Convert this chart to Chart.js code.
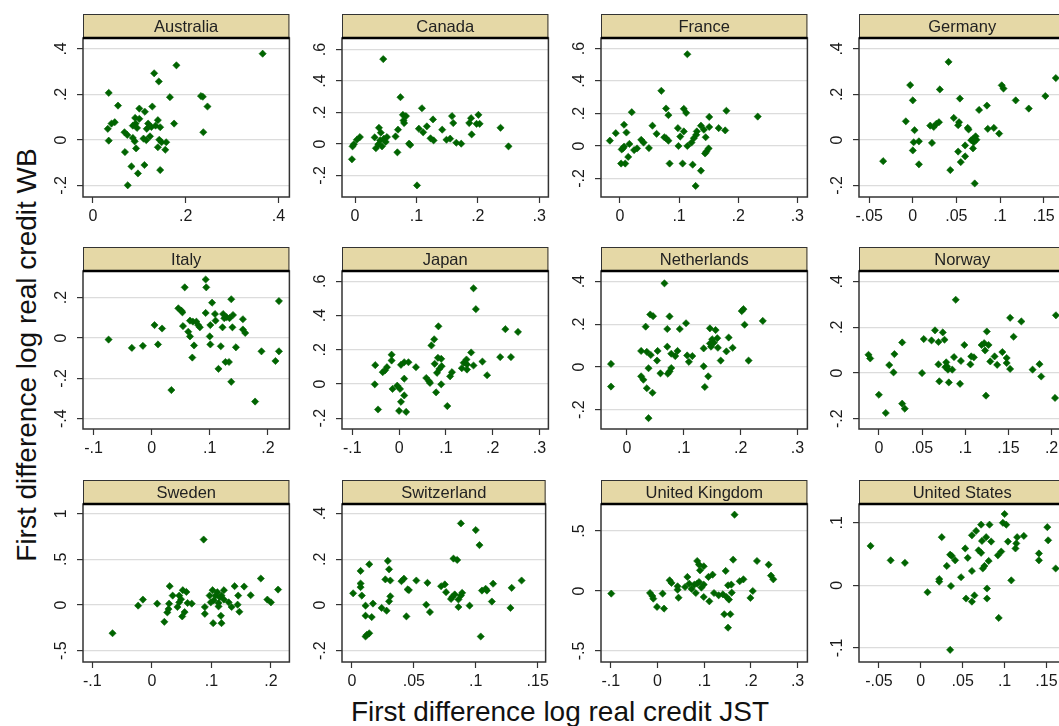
<!DOCTYPE html>
<html>
<head>
<meta charset="utf-8">
<title>Credit growth scatter by country</title>
<script src="https://cdn.jsdelivr.net/npm/chart.js@4.4.0/dist/chart.umd.min.js"></script>
<style>
  html, body { margin: 0; padding: 0; background: #fff; }
  #page { position: relative; width: 1059px; height: 726px; overflow: hidden; background: #fff; }
  #page canvas { position: absolute; }
  .axis-title { position: absolute; white-space: nowrap; font: 28px "Liberation Sans", Arial, sans-serif; color: #111; }
  #ytitle { left: 27px; top: 355px; transform: translate(-50%, -50%) rotate(-90deg); }
  #xtitle { left: 560px; top: 712px; transform: translate(-50%, -50%); }
</style>
</head>
<body>
<div id="page">
  <div class="axis-title" id="ytitle">First difference log real credit WB</div>
  <div class="axis-title" id="xtitle">First difference log real credit JST</div>
</div>
<script>
// ---- data: x = JST credit growth, y = WB credit growth ----
const australiaX = [.366,.180,.132,.142,.034,.166,.233,.237,.247,.054,.100,.128,.112,.091,.100,.047,.040,.032,.092,.095,.119,.126,.140,.135,.145,.175,.116,.068,.074,.086,.090,.109,.115,.123,.034,.093,.140,.143,.148,.158,.156,.069,.083,.111,.097,.145,.075,.238,.086];
const australiaY = [.379,.328,.293,.257,.207,.188,.193,.190,.147,.151,.138,.147,.124,.097,.093,.078,.072,.049,.072,.053,.072,.057,.087,.063,.056,.072,.049,.034,.022,.009,-.006,.006,-.001,.016,-.003,-.037,-.032,.001,-.010,-.010,-.043,-.053,-.116,-.110,-.147,-.132,-.199,.034,.063];

const canadaX = [.046,.074,.109,.078,.083,.079,.080,.127,.158,.160,.189,.201,.203,.186,.198,.117,.104,.111,.070,.039,.042,.032,.237,.142,.190,.123,.128,.149,.155,.165,.173,.008,.003,-.002,-.004,.066,.052,.047,.041,.038,.034,.050,.044,.088,.090,.069,-.005,.250,.101];
const canadaY = [.539,.297,.227,.185,.177,.149,.133,.156,.177,.133,.164,.185,.128,.133,.128,.112,.097,.074,.091,.103,.072,.042,.103,.091,.061,.036,.023,.027,.034,.008,.002,.044,.027,-.002,-.015,.048,.044,.034,.023,-.002,-.027,.013,-.015,.002,-.006,-.053,-.097,-.015,-.263];

const franceX = [.114,.070,.078,.082,.108,.112,.020,.180,.233,.151,.055,.007,.062,.098,.108,.102,.137,.142,.130,.129,.125,.151,.167,.178,.145,.078,.082,.075,-.007,-.017,.011,.016,.036,.040,.029,.024,.005,.007,.003,.049,.099,.114,.121,.150,.146,.144,.014,.002,.009,.084,.106,.123,.137,.128];
const franceY = [.565,.340,.231,.190,.229,.204,.208,.217,.181,.179,.125,.131,.075,.110,.090,.058,.125,.100,.090,.069,.048,.117,.110,.096,.054,.048,.033,.054,.079,.033,.083,.013,.038,.021,-.015,-.025,-.015,-.004,-.021,-.013,0,0,.021,-.015,-.035,-.046,-.067,-.108,-.108,-.108,-.108,-.115,-.152,-.246];

const germanyX = [.041,-.003,.031,0,.054,.102,.104,.118,.152,.164,.133,.085,.076,-.008,.047,.030,.027,.020,.024,.053,.052,.063,.064,.086,.093,.099,.002,.072,.069,.067,.070,.073,.060,.069,.001,.007,.022,0,.052,.060,.055,-.034,.007,.043,.071];
const germanyY = [.343,.241,.222,.174,.182,.240,.226,.174,.193,.272,.138,.151,.132,.082,.097,.078,.071,.063,.057,.078,.065,.053,.046,.049,.053,.028,.043,.016,.004,-.001,-.010,.001,-.024,-.037,-.010,-.006,-.013,-.046,-.051,-.072,-.097,-.093,-.107,-.132,-.191];

const italyX = [.093,.094,.057,.104,.137,.219,.046,.051,.053,.093,.109,.123,.129,.134,.140,.125,.157,.005,.018,.054,.066,.071,.077,.083,.080,.110,.101,.122,.139,.157,.161,.063,.066,.100,-.074,.011,-.034,-.015,.073,.101,.119,.145,.070,.189,.219,.213,.127,.133,.115,.137,.034,.178];
const italyY = [.290,.251,.251,.175,.192,.183,.147,.136,.127,.124,.119,.119,.103,.098,.114,.098,.093,.064,.047,.059,.086,.081,.081,.053,.064,.086,.064,.053,.053,.042,.025,.031,.008,.008,-.008,-.032,-.049,-.039,-.037,-.032,-.041,-.046,-.097,-.066,-.066,-.114,-.119,-.119,-.153,-.217,-.258,-.315];

const japanX = [.159,.164,.084,.227,.254,.075,.069,.154,.239,.216,.178,.083,.090,.076,.091,.086,.081,.144,.138,.145,.159,.134,.145,-.016,-.016,-.051,-.026,-.035,-.030,.004,.011,.020,.036,.113,.109,.188,.058,.064,.066,.011,-.052,-.004,.002,-.014,.090,.079,.011,.004,.103,-.045,0,.015];
const japanY = [.559,.437,.337,.320,.304,.261,.225,.184,.157,.157,.131,.153,.147,.118,.104,.088,.065,.143,.124,.114,.108,.092,.084,.171,.137,.110,.098,.069,.080,.112,.127,.127,.098,.069,.045,.051,.035,.016,.006,.031,-.002,-.010,-.029,-.029,-.002,-.049,-.067,-.104,-.129,-.149,-.157,-.163];

const netherlandsX = [.066,.041,.046,.075,.202,.205,.239,.207,.104,.033,.071,.093,.146,.156,.159,.179,.150,.146,.153,.148,.160,.186,.175,.135,.071,.025,.035,.042,.054,.089,.078,.085,.106,.115,.109,.053,.165,.214,-.028,.135,.038,.078,.075,.059,.072,.025,.029,.143,-.028,.035,.137,.045,.038];
const netherlandsY = [.392,.246,.238,.237,.262,.271,.216,.198,.205,.189,.178,.178,.181,.173,.135,.138,.130,.110,.114,.095,.090,.090,.073,.087,.095,.075,.071,.056,.075,.075,.062,.051,.054,.051,.024,.030,.030,.030,.014,.003,-.006,-.005,-.021,-.030,-.032,-.044,-.060,-.044,-.092,-.100,-.094,-.121,-.240];

const norwayX = [.089,.152,.165,.205,.065,.125,.074,.052,.061,.069,.076,.156,.027,.099,.119,.122,.127,.123,-.012,-.010,.018,.012,.017,.069,.078,.079,.080,.077,.087,.095,.085,.106,.107,.110,.134,.129,.137,.143,.148,.148,.152,.186,.178,.188,.050,.070,.081,.094,0,.124,.204,.027,.030,.008];
const norwayY = [.321,.242,.226,.253,.187,.182,.178,.149,.143,.136,.146,.159,.134,.123,.123,.131,.123,.099,.080,.064,.083,.035,.003,.038,.047,.029,.015,.026,.070,.053,.015,.038,.073,.069,.073,.051,.036,.092,.066,.044,.018,.039,.015,-.015,0,-.036,-.041,-.047,-.095,-.099,-.109,-.134,-.156,-.175];

const swedenX = [.087,.183,.212,.155,.139,.030,.052,.058,.046,.035,.060,.067,.049,.046,.029,-.015,-.023,.009,.028,.026,.043,.055,.051,.021,.089,.089,.102,.110,.097,.107,.114,.121,.117,.104,.099,.112,.121,.112,.129,.134,.145,.144,.147,.166,.194,.200,.103,.117,.116,-.066];
const swedenY = [.717,.290,.169,.202,.206,.206,.162,.143,.103,.103,.022,.015,.063,.029,.015,.059,-.007,.015,-.044,-.081,-.022,-.077,-.125,-.184,-.022,-.096,.162,.140,.103,.103,.085,.162,.103,.051,.029,.022,.059,-.015,.029,-.022,.103,.004,-.074,.107,.059,.029,-.199,-.199,-.118,-.309];

const switzerlandX = [.088,.100,.103,.082,.085,.029,.014,.030,.007,.007,.007,.001,.008,.027,.031,.040,.042,.052,.045,.046,.061,.072,.075,.076,.080,.083,.081,.088,.089,.086,.105,.108,.109,.114,.113,.129,.137,.011,.017,.024,.028,.031,.030,.060,.063,.086,.095,.128,.011,.016,.044,.011,.014,.104,.012];
const switzerlandY = [.357,.328,.262,.203,.197,.193,.178,.156,.149,.094,.078,.051,.041,.112,.107,.104,.115,.107,.068,.065,.097,.082,.090,.056,.026,.046,.035,.041,.053,.024,.063,.071,.063,.093,.015,.075,.107,-.003,.006,-.013,-.025,.038,.016,.001,-.031,-.009,-.003,-.013,-.047,-.053,-.050,-.138,-.124,-.138,-.131];

const ukX = [.165,.162,.213,.238,.085,.089,.091,.146,.099,.118,.109,.243,.248,.184,.176,.026,.030,.064,.068,.059,.043,.043,.079,.085,.089,.094,.099,.073,.151,.158,-.016,-.011,.011,-.009,.045,.082,.099,.111,.121,.131,.140,.148,.153,.159,.204,.199,-.001,.014,.143,.156,.151,-.099];
const ukY = [.636,.261,.250,.219,.250,.219,.172,.167,.206,.136,.117,.128,.097,.097,.081,.089,.067,.117,.061,.033,.039,.011,.053,.061,.075,.028,.053,.017,.047,.053,-.017,-.042,-.022,-.064,-.056,-.017,-.050,-.086,-.017,-.036,-.028,-.050,-.072,-.014,0,-.058,-.133,-.147,-.194,-.194,-.306,-.022];

const usX = [.100,.098,.102,.082,.072,.066,.061,.151,.123,.115,.078,.025,.152,.073,.084,.104,.114,.113,.053,.069,.072,.096,.092,.035,.037,.041,.056,.141,.141,-.060,-.036,-.019,.031,.076,.074,.081,.061,.161,.048,.022,.022,.108,.036,.008,.079,.054,.064,.061,.079,.093,.035];
const usY = [.114,.100,.097,.097,.097,.087,.080,.093,.079,.077,.077,.077,.072,.071,.070,.070,.067,.059,.059,.056,.052,.054,.048,.049,.047,.040,.044,.051,.040,.063,.040,.036,.031,.031,.027,.039,.023,.027,.013,.010,.006,.008,-.001,-.011,-.005,-.021,-.016,-.026,-.021,-.052,-.103];

// tick labels per panel
const ticksA = [0, .2, .4];
const ticksB = [0, .1, .2, .3];
const ticksC = [-.05, 0, .05, .1, .15];
const ticksD = [-.1, 0, .1, .2];
const ticksE = [-.1, 0, .1, .2, .3];
const ticksF = [0, .05, .1, .15, .2];
const ticksG = [0, .05, .1, .15];
const yTicks2 = [-.2, 0, .2, .4];
const yTicks3 = [-.2, 0, .2, .4, .6];
const yTicksIt = [-.4, -.2, 0, .2];
const yTicksSe = [-.5, 0, .5, 1];
const yTicksUk = [-.5, 0, .5];
const yTicksUs = [-.1, 0, .1];

// panel grid: col/row and axis ranges
const panels = [
  { name: 'Australia',      x: australiaX,    y: australiaY,    xt: ticksA, yt: yTicks2,  xr: [-.0215, .4237], yr: [-.2505, .448], col: 0, row: 0 },
  { name: 'Canada',         x: canadaX,       y: canadaY,       xt: ticksB, yt: yTicks3,  xr: [-.0212, .315],  yr: [-.3365, .673], col: 1, row: 0 },
  { name: 'France',         x: franceX,       y: franceY,       xt: ticksB, yt: yTicks3,  xr: [-.032, .317],   yr: [-.314, .665],  col: 2, row: 0 },
  { name: 'Germany',        x: germanyX,      y: germanyY,      xt: ticksC, yt: yTicks2,  xr: [-.0617, .175],  yr: [-.2505, .448], col: 3, row: 0 },
  { name: 'Italy',          x: italyX,        y: italyY,        xt: ticksD, yt: yTicksIt, xr: [-.118, .237],   yr: [-.451, .332],  col: 0, row: 1 },
  { name: 'Japan',          x: japanX,        y: japanY,        xt: ticksE, yt: yTicks3,  xr: [-.122, .319],   yr: [-.263, .660],  col: 1, row: 1 },
  { name: 'Netherlands',    x: netherlandsX,  y: netherlandsY,  xt: ticksB, yt: yTicks2,  xr: [-.0456, .3175], yr: [-.291, .450],  col: 2, row: 1 },
  { name: 'Norway',         x: norwayX,       y: norwayY,       xt: ticksF, yt: yTicks2,  xr: [-.023, .216],   yr: [-.245, .447],  col: 3, row: 1 },
  { name: 'Sweden',         x: swedenX,       y: swedenY,       xt: ticksD, yt: yTicksSe, xr: [-.1156, .231],  yr: [-.624, 1.106], col: 0, row: 2 },
  { name: 'Switzerland',    x: switzerlandX,  y: switzerlandY,  xt: ticksG, yt: yTicks2,  xr: [-.008, .1564],  yr: [-.2497, .442], col: 1, row: 2 },
  { name: 'United Kingdom', x: ukX,           y: ukY,           xt: ticksE, yt: yTicksUk, xr: [-.121, .321],   yr: [-.592, .725],  col: 2, row: 2 },
  { name: 'United States',  x: usX,           y: usY,           xt: ticksC, yt: yTicksUs, xr: [-.0738, .1726], yr: [-.1224, .130], col: 3, row: 2 },
];

const COL_LEFT = [83, 342, 601, 859];
const ROW_TOP = [14, 247, 480];
const ROW_BOTTOM = [197, 429, 662];
const PLOT_W = 207;
const GUTTER = 45;   // room for y ticks
const XAXIS_H = 35;  // room for x ticks
const STRIP_H = 24;
const FONT = '"Liberation Sans", Arial, sans-serif';

// Stata style labels: .2, -.05, 0, 1
function fmt(v) {
  let s = String(Math.round(v * 1000) / 1000);
  return s.replace(/^0\./, '.').replace(/^-0\./, '-.');
}

const stripPlugin = {
  id: 'strip',
  afterDraw(chart, args, opts) {
    const { ctx, chartArea: a } = chart;
    const ys = chart.scales.y;
    ctx.save();
    // header strip
    ctx.fillStyle = '#e5d8a6';
    ctx.fillRect(a.left, a.top - STRIP_H, a.width, STRIP_H);
    ctx.strokeStyle = '#333';
    ctx.lineWidth = 1;
    ctx.strokeRect(a.left + 0.5, a.top - STRIP_H + 0.5, a.width - 1, STRIP_H);
    ctx.fillStyle = '#222';
    ctx.font = '16.5px ' + FONT;
    ctx.textAlign = 'center';
    ctx.textBaseline = 'middle';
    ctx.fillText(opts.title, (a.left + a.right) / 2, a.top - STRIP_H / 2 + 1);
    // plot frame
    ctx.lineWidth = 1.5;
    ctx.strokeStyle = '#333';
    ctx.strokeRect(a.left, a.top, a.width, a.height);
    ctx.lineWidth = 2.5;
    ctx.strokeStyle = '#000';
    ctx.beginPath();
    ctx.moveTo(a.left, a.top);
    ctx.lineTo(a.right, a.top);
    ctx.stroke();
    // rotated y tick labels
    ctx.font = '16px ' + FONT;
    ctx.fillStyle = '#1a1a1a';
    ys.ticks.forEach(t => {
      const py = ys.getPixelForValue(t.value);
      ctx.save();
      ctx.translate(a.left - 21, py);
      ctx.rotate(-Math.PI / 2);
      ctx.fillText(fmt(t.value), 0, 0);
      ctx.restore();
    });
    ctx.restore();
  }
};

const page = document.getElementById('page');

panels.forEach(p => {
  const cv = document.createElement('canvas');
  const w = GUTTER + PLOT_W + 4;
  const h = ROW_BOTTOM[p.row] - ROW_TOP[p.row] + XAXIS_H;
  cv.width = w;
  cv.height = h;
  cv.style.left = (COL_LEFT[p.col] - GUTTER) + 'px';
  cv.style.top = ROW_TOP[p.row] + 'px';
  cv.style.width = w + 'px';
  cv.style.height = h + 'px';
  page.appendChild(cv);

  new Chart(cv, {
    type: 'scatter',
    data: {
      datasets: [{
        data: p.x.map((v, i) => ({ x: v, y: p.y[i] })),
        pointStyle: 'rectRot',
        pointRadius: 3.6,
        pointBorderWidth: 0.6,
        backgroundColor: '#006400',
        borderColor: '#006400'
      }]
    },
    options: {
      responsive: false,
      animation: false,
      devicePixelRatio: 1,
      layout: { padding: { top: STRIP_H, right: 4, left: 0, bottom: 0 } },
      plugins: {
        legend: { display: false },
        tooltip: { enabled: false },
        strip: { title: p.name }
      },
      scales: {
        x: {
          type: 'linear',
          min: p.xr[0],
          max: p.xr[1],
          afterBuildTicks: s => { s.ticks = p.xt.map(v => ({ value: v })); },
          afterFit: s => { s.height = XAXIS_H; },
          ticks: {
            autoSkip: false,
            maxRotation: 0,
            minRotation: 0,
            padding: 4,
            color: '#1a1a1a',
            font: { family: FONT, size: 16 },
            callback: v => fmt(v)
          },
          grid: { drawOnChartArea: false, drawTicks: true, tickLength: 6, tickColor: '#333', tickWidth: 1.2 },
          border: { display: false }
        },
        y: {
          type: 'linear',
          min: p.yr[0],
          max: p.yr[1],
          afterBuildTicks: s => { s.ticks = p.yt.map(v => ({ value: v })); },
          afterFit: s => { s.width = GUTTER; },
          ticks: { display: false },
          grid: { color: '#dcdcdc', lineWidth: 1.2, drawTicks: true, tickLength: 6, tickColor: '#333', tickWidth: 1.2 },
          border: { display: false }
        }
      }
    },
    plugins: [stripPlugin]
  });
});
</script>
</body>
</html>
